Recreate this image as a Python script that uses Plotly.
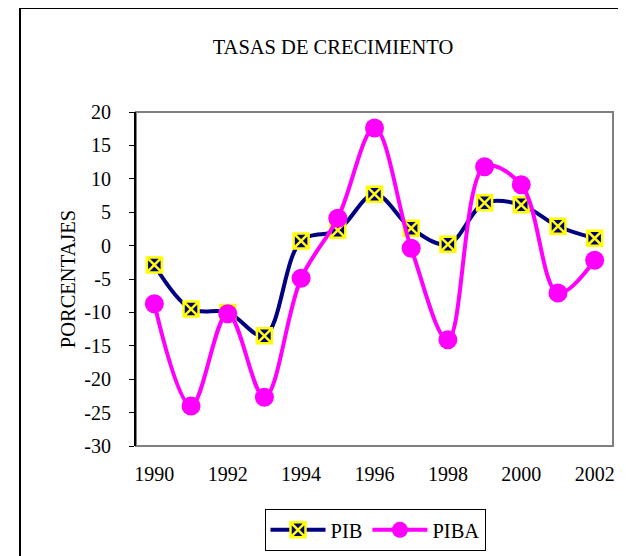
import plotly.graph_objects as go

# data
years = [1990, 1991, 1992, 1993, 1994, 1995, 1996, 1997, 1998, 1999, 2000, 2001, 2002]
pib = [-2.9, -9.5, -10.0, -13.5, 0.7, 2.3, 7.7, 2.6, 0.2, 6.4, 6.1, 2.9, 1.1]
piba = [-8.7, -24.0, -10.2, -22.7, -4.9, 4.1, 17.6, -0.4, -14.1, 11.8, 9.1, -7.1, -2.2]
year_ticks = [1990, 1992, 1994, 1996, 1998, 2000, 2002]
y_ticks = [-30, -25, -20, -15, -10, -5, 0, 5, 10, 15, 20]

font_name = "'Liberation Serif', 'Times New Roman', Times, serif"
OFF = 8  # page body margin
W, H = 626 - OFF, 556 - OFF
L, T = 136 - OFF, 112 - OFF
R, B = W - (613 - OFF), H - (446 - OFF)
pw, ph = W - L - R, H - T - B


# page pixel -> paper fraction
def px_x(p):
    return (p - OFF - L) / pw


def px_y(p):
    return 1 - (p - OFF - T) / ph


fig = go.Figure()

fig.add_trace(go.Scatter(
    x=years, y=pib, name="PIB", mode="lines+markers",
    line=dict(color="#000080", width=4, shape="spline"),
    marker=dict(symbol="square-x", size=15, color="#000080",
                line=dict(color="#FFFF00", width=2.5))))

fig.add_trace(go.Scatter(
    x=years, y=piba, name="PIBA", mode="lines+markers",
    line=dict(color="#FF00FF", width=4, shape="spline"),
    marker=dict(symbol="circle", size=19, color="#FF00FF")))

# outer frame of the chart object
fig.add_shape(type="rect", xref="paper", yref="paper",
              x0=px_x(20), x1=px_x(660), y0=px_y(600), y1=px_y(8),
              line=dict(color="black", width=2), layer="below")

# plot area border
fig.add_shape(type="rect", xref="x domain", yref="y domain",
              x0=0, x1=1, y0=0, y1=1,
              line=dict(color="#808080", width=2), layer="below")

ymin, ymax = -30, 20
zero_pos = (0 - ymin) / (ymax - ymin)

fig.update_layout(
    width=W, height=H,
    margin=dict(l=L, r=R, t=T, b=B, autoexpand=False),
    paper_bgcolor="white", plot_bgcolor="rgba(0,0,0,0)",
    font=dict(family=font_name, size=20, color="black"),
    title=dict(text="TASAS DE CRECIMIENTO", font=dict(family=font_name, size=20.5),
               xref="paper", x=px_x(333), xanchor="center",
               yref="container", y=1 - (47 - OFF) / H, yanchor="middle"),
    showlegend=True,
    legend=dict(orientation="h", x=px_x(375), xanchor="center",
                y=px_y(530), yanchor="middle",
                bordercolor="black", borderwidth=1, bgcolor="white",
                font=dict(family=font_name, size=20.5), itemwidth=55),
    xaxis=dict(range=[1989.5, 2002.5], tickvals=year_ticks, showgrid=False,
               zeroline=False, showline=False, ticks="", ticklabelstandoff=14,
               tickfont=dict(family=font_name, size=20)),
    xaxis2=dict(range=[1989.5, 2002.5], overlaying="x", anchor="free",
                position=zero_pos, side="bottom", showgrid=False, zeroline=False,
                showline=True, linecolor="black", linewidth=1,
                ticks="outside", ticklen=5, tickcolor="black",
                tickvals=[y + 0.5 for y in range(1989, 2003)],
                showticklabels=False),
    yaxis=dict(range=[ymin, ymax], tickvals=y_ticks,
               ticktext=[str(v) for v in y_ticks],
               showgrid=False, zeroline=False,
               showline=True, linecolor="black", linewidth=2,
               ticks="outside", ticklen=5, tickcolor="black", ticklabelstandoff=14,
               tickfont=dict(family=font_name, size=20),
               title=dict(text="PORCENTAJES", standoff=3,
                          font=dict(family=font_name, size=20.5))),
)

fig.write_html("out.html")
